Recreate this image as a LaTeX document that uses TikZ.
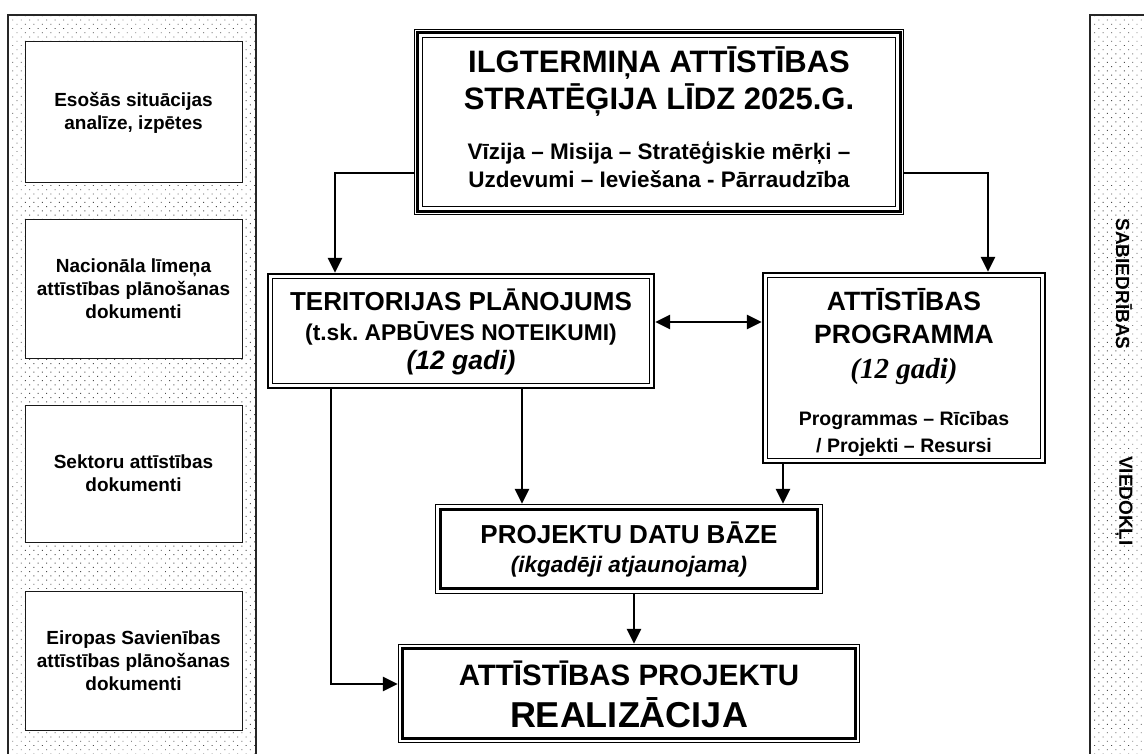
\documentclass[tikz,border=0pt]{standalone}
\usepackage{fontspec}
\setmainfont{Liberation Sans}
\newfontfamily\timesfont{Liberation Serif}
\usetikzlibrary{arrows.meta,patterns.meta}
\newcommand\fs[1]{\fontsize{#1}{#1}\selectfont}
\newcommand\insetrect[3]{\draw[line width=#3] ([shift={(#2pt,-#2pt)}]#1.north west) rectangle ([shift={(-#2pt,#2pt)}]#1.south east);}
\begin{document}
\begin{tikzpicture}[x=1pt,y=1pt,
  frame/.style={draw=none, fill=white, inner sep=0pt},
  txt/.style={anchor=base, inner sep=0pt},
  leftbox/.style={draw=black!90, line width=1pt, fill=white, minimum width=217pt, align=center, font=\bfseries\fontsize{19}{23}\selectfont, inner sep=0pt},
  dotfill/.style={pattern={Dots[radius=0.65pt,distance=6pt,angle=45]}, pattern color=black!70},
  conn/.style={line width=2.8pt},
  arr/.style={conn, -{Triangle[length=15pt,width=14pt]}},
  darr/.style={conn, {Triangle[length=15pt,width=14pt]}-{Triangle[length=15pt,width=14pt]}}
]
\useasboundingbox (0,0) rectangle (1144,-754);
\fill[white] (0,0) rectangle (1144,-754);

% side panels
\fill[dotfill] (8,-15) rectangle (256,-754);
\draw[line width=1.2pt, black!85] (8,-754) -- (8,-15) -- (256,-15) -- (256,-754);
\fill[dotfill] (1090,-15) rectangle (1144,-754);
\draw[line width=1.2pt, black!85] (1090,-754) -- (1090,-15) -- (1144,-15);

% left boxes
\node[leftbox, minimum height=141pt] (lb1) at (133.5,-112.5) {Esošās situācijas\\analīze, izpētes};
\node[leftbox, minimum height=138pt] (lb2) at (133.5,-289) {Nacionāla līmeņa\\attīstības plānošanas\\dokumenti};
\node[leftbox, minimum height=137pt] (lb3) at (133.5,-473.5) {Sektoru attīstības\\dokumenti};
\node[leftbox, minimum height=139pt] (lb4) at (133.5,-660.5) {Eiropas Savienības\\attīstības plānošanas\\dokumenti};

% right panel text
\node[font=\bfseries\fs{19}, rotate=-90] (rp1) at (1124,-284) {SABIEDRĪBAS};
\node[font=\bfseries\fs{19}, rotate=-90] (rp2) at (1124,-501) {VIEDOKĻI};

% main boxes
\node[frame, minimum width=490pt, minimum height=186pt] (strat) at (659,-122) {};
\insetrect{strat}{0.6}{1.2pt}
\insetrect{strat}{3.8}{2.6pt}
\insetrect{strat}{8.5}{1.2pt}

\node[frame, minimum width=388pt, minimum height=116pt] (ter) at (461,-331) {};
\insetrect{ter}{1.3}{2.6pt}
\insetrect{ter}{5.8}{1.1pt}

\node[frame, minimum width=284pt, minimum height=192pt] (prog) at (904,-368) {};
\insetrect{prog}{1.3}{2.6pt}
\insetrect{prog}{5.8}{1.1pt}

\node[frame, minimum width=388pt, minimum height=90pt] (db) at (629,-549) {};
\insetrect{db}{0.6}{1.1pt}
\insetrect{db}{5.8}{2.6pt}

\node[frame, minimum width=462pt, minimum height=99pt] (real) at (629,-693.5) {};
\insetrect{real}{0.6}{1.1pt}
\insetrect{real}{5}{2.8pt}

% texts
\node[txt, font=\bfseries\fs{31}] (st1) at (659,-73) {ILGTERMIŅA ATTĪSTĪBAS};
\node[txt, font=\bfseries\fs{31}] (st2) at (659,-110) {STRATĒĢIJA LĪDZ 2025.G.};
\node[txt, font=\bfseries\fs{22.5}] (st3) at (659,-160) {Vīzija – Misija – Stratēģiskie mērķi –};
\node[txt, font=\bfseries\fs{22.5}] (st4) at (659,-188) {Uzdevumi – Ieviešana - Pārraudzība};

\node[txt, font=\bfseries\fs{26}] (t1) at (461,-310) {TERITORIJAS PLĀNOJUMS};
\node[txt, font=\bfseries\fs{22.8}] (t2) at (461,-340) {(t.sk.\ APBŪVES NOTEIKUMI)};
\node[txt, font=\bfseries\itshape\fs{26.5}] (t3) at (461,-369) {(12 gadi)};

\node[txt, font=\bfseries\fs{26.5}] (p1) at (904,-310) {ATTĪSTĪBAS};
\node[txt, font=\bfseries\fs{26.5}] (p2) at (904,-343) {PROGRAMMA};
\node[txt, font=\timesfont\bfseries\itshape\fs{29}] (p3) at (904,-378) {(12 gadi)};
\node[txt, font=\bfseries\fs{19.5}] (p4) at (904,-425) {Programmas – Rīcības};
\node[txt, font=\bfseries\fs{19.5}] (p5) at (904,-452) {/ Projekti – Resursi};

\node[txt, font=\bfseries\fs{26}] (d1) at (629,-543) {PROJEKTU DATU BĀZE};
\node[txt, font=\bfseries\itshape\fs{22.5}] (d2) at (629,-572) {(ikgadēji atjaunojama)};

\node[txt, font=\bfseries\fs{29.5}] (r1) at (629,-685) {ATTĪSTĪBAS PROJEKTU};
\node[txt, font=\bfseries\fs{36}] (r2) at (629,-727) {REALIZĀCIJA};

% connectors
\coordinate (sl) at (335,-173);
\coordinate (sr) at (988,-173);
\coordinate (dy) at (700,-322);
\coordinate (ll) at (331,-684);
\coordinate (tm) at (522,0);
\coordinate (pm) at (783,0);
\coordinate (dm) at (634,0);
\draw[arr] (strat.west |- sl) -- (sl) -- (sl |- ter.north);
\draw[arr] (strat.east |- sr) -- (sr) -- (sr |- prog.north);
\draw[darr] (ter.east |- dy) -- (prog.west |- dy);
\draw[arr] (ll |- ter.south) -- (ll) -- (real.west |- ll);
\draw[arr] (tm |- ter.south) -- (tm |- db.north);
\draw[arr] (pm |- prog.south) -- (pm |- db.north);
\draw[arr] (dm |- db.south) -- (dm |- real.north);
\end{tikzpicture}
\end{document}
